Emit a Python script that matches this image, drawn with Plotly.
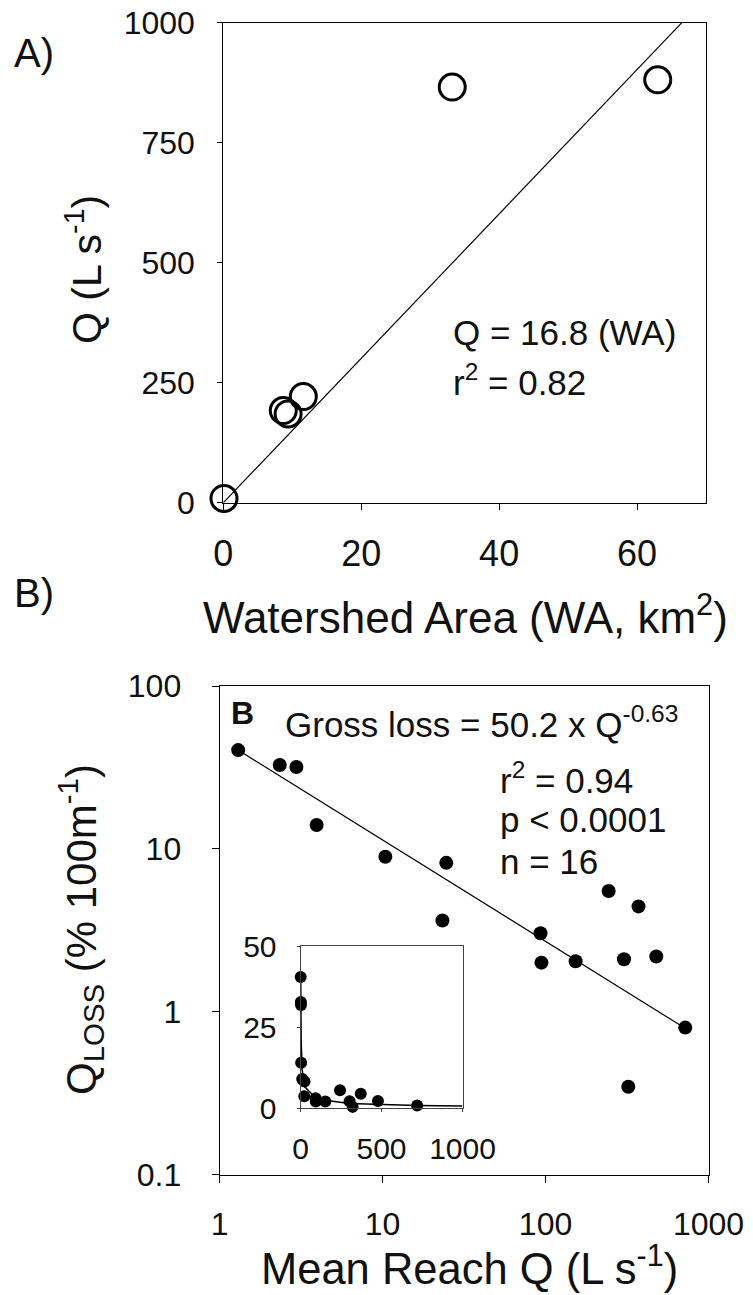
import plotly.graph_objects as go

# ---------------- data ----------------
# Panel A: watershed area vs discharge
wa_km2 = [0.1, 8.7, 9.4, 11.6, 33.2, 63.0]
q_ls = [9, 192, 185, 221, 866, 881]
fitA_x = [0, 66.5]
fitA_y = [0, 1000]
a_xticks = [0, 20, 40, 60]
a_yticks = [0, 250, 500, 750, 1000]

# Panel B: mean reach Q vs Q loss
mean_q = [1.30, 2.34, 2.96, 3.94, 10.4, 24.6, 23.3, 93.2, 94.4, 153, 244, 303, 372, 478, 322, 720]
q_loss = [40.4, 32.7, 31.8, 14.0, 8.95, 8.2, 3.63, 3.03, 2.0, 2.04, 5.51, 2.10, 4.43, 2.18, 0.346, 0.798]
fitB_x = [1.27, 720]
fitB_y = [41.0, 0.79]
b_xtickvals = [1, 10, 100, 1000]
b_xticktext = ["1", "10", "100", "1000"]
b_ytickvals = [0.1, 1, 10, 100]
b_yticktext = ["0.1", "1", "10", "100"]

# Inset (linear)
inset_curve_x = [1.3, 2.3, 4, 10, 25, 100, 300, 720, 1000]
inset_curve_y = [42, 29, 21, 11.8, 6.6, 2.8, 1.4, 0.8, 0.65]
inset_xticks = [0, 500, 1000]
inset_yticks = [0, 25, 50]

FONT = "Liberation Sans, Arial, sans-serif"
W, H = 753, 1295


def X(px):
    return px / W


def Y(py):
    return 1 - py / H


fig = go.Figure()

# Panel A
fig.add_trace(go.Scatter(x=fitA_x, y=fitA_y, mode="lines",
                         line=dict(color="black", width=1.2),
                         xaxis="x", yaxis="y", showlegend=False, cliponaxis=True))
fig.add_trace(go.Scatter(x=wa_km2, y=q_ls, mode="markers",
                         marker=dict(symbol="circle-open", size=26, color="black",
                                     line=dict(width=3, color="black")),
                         xaxis="x", yaxis="y", showlegend=False, cliponaxis=False))

# Panel B
fig.add_trace(go.Scatter(x=fitB_x, y=fitB_y, mode="lines",
                         line=dict(color="black", width=1.2),
                         xaxis="x2", yaxis="y2", showlegend=False))
fig.add_trace(go.Scatter(x=mean_q, y=q_loss, mode="markers",
                         marker=dict(symbol="circle", size=14, color="black"),
                         xaxis="x2", yaxis="y2", showlegend=False, cliponaxis=False))

# Inset
fig.add_trace(go.Scatter(x=inset_curve_x, y=inset_curve_y, mode="lines",
                         line=dict(color="black", width=1.5),
                         xaxis="x3", yaxis="y3", showlegend=False, cliponaxis=False))
fig.add_trace(go.Scatter(x=mean_q, y=q_loss, mode="markers",
                         marker=dict(symbol="circle", size=12, color="black"),
                         xaxis="x3", yaxis="y3", showlegend=False, cliponaxis=False))

axis_common = dict(showline=True, linecolor="black", linewidth=1, mirror=True,
                   ticks="outside", tickcolor="black", showgrid=False, zeroline=False,
                   automargin=False, ticklabeloverflow="allow")
inset_common = dict(showline=True, linecolor="#444", linewidth=1, mirror=True,
                    ticks="outside", tickcolor="#444", showgrid=False, zeroline=False,
                    automargin=False, ticklabeloverflow="allow")

fig.update_layout(
    width=W, height=H,
    margin=dict(l=0, r=0, t=0, b=0, autoexpand=False),
    paper_bgcolor="white", plot_bgcolor="white",
    font=dict(family=FONT, color="#111"),
    xaxis=dict(domain=[X(223.3), X(706)], range=[0, 70], tickvals=a_xticks,
               ticklen=6, tickfont=dict(size=36), ticklabelstandoff=13,
               anchor="y", **axis_common),
    yaxis=dict(domain=[Y(502.7), Y(22.7)], range=[0, 1000], tickvals=a_yticks,
               ticklen=5, tickfont=dict(size=32), ticklabelstandoff=16,
               anchor="x", **axis_common),
    xaxis2=dict(domain=[X(219.6), X(708.5)], type="log", range=[0, 3],
                tickvals=b_xtickvals, ticktext=b_xticktext,
                ticklen=7, tickfont=dict(size=32), ticklabelstandoff=14,
                anchor="y2", **axis_common),
    yaxis2=dict(domain=[Y(1174.5), Y(686)], type="log", range=[-1, 2],
                tickvals=b_ytickvals, ticktext=b_yticktext,
                ticklen=7, tickfont=dict(size=32), ticklabelstandoff=24,
                anchor="x2", **axis_common),
    xaxis3=dict(domain=[X(300.5), X(462.5)], range=[0, 1000], tickvals=inset_xticks,
                ticklen=3, tickfont=dict(size=30), ticklabelstandoff=11,
                anchor="y3", **inset_common),
    yaxis3=dict(domain=[Y(1108), Y(946)], range=[0, 50], tickvals=inset_yticks,
                ticklen=3, tickfont=dict(size=30), ticklabelstandoff=14,
                anchor="x3", **inset_common),
)

ann = []


def add(text, px, py, size, xanchor="left", yanchor="middle", angle=0, bold=False):
    ann.append(dict(text=("<b>%s</b>" % text) if bold else text,
                    x=X(px), y=Y(py), xref="paper", yref="paper",
                    xanchor=xanchor, yanchor=yanchor, textangle=angle,
                    showarrow=False, font=dict(size=size, family=FONT, color="#111")))


add("A)", 12, 53, 40)
add("B)", 12, 593, 40)
add("Q = 16.8 (WA)", 451, 333, 35)
add("r<sup>2</sup> = 0.82", 451, 380, 35)
add("Watershed Area (WA, km<sup>2</sup>)", 465, 614, 44, xanchor="center")
add("Q (L s<sup>-1</sup>)", 84, 270, 41, xanchor="center", angle=-90)

add("B", 229, 713, 32, bold=True)
add("Gross loss = 50.2 x Q<sup>-0.63</sup>", 283, 722, 35)
add("r<sup>2</sup> = 0.94", 498, 778, 35)
add("p < 0.0001", 498, 820, 35)
add("n = 16", 498, 861, 35)
add("Mean Reach Q (L s<sup>-1</sup>)", 469, 1265, 43.5, xanchor="center")
add("Q<sub>LOSS</sub> (% 100m<sup>-1</sup>)", 80, 930, 42, xanchor="center", angle=-90)

fig.update_layout(annotations=ann)

fig.write_html("out.html",
               config={"displayModeBar": False},
               post_script="document.body.style.margin='0';document.body.style.overflow='hidden';")
